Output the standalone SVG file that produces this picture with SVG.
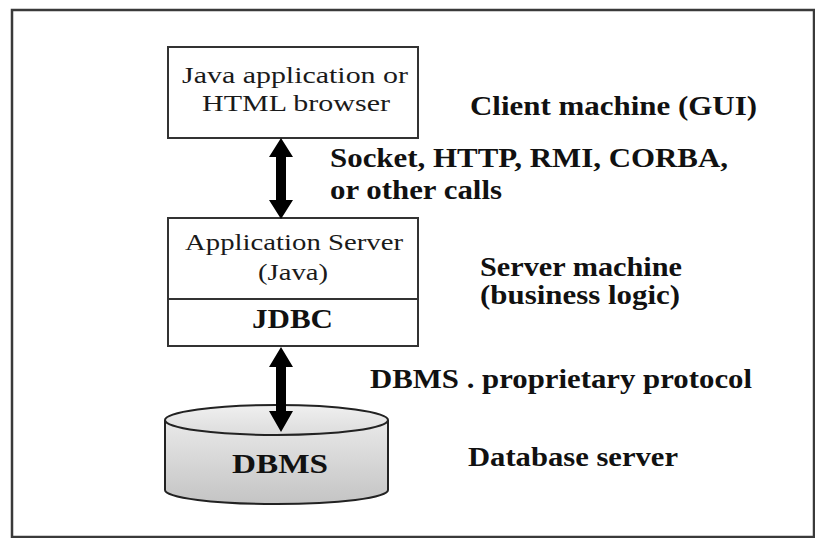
<svg xmlns="http://www.w3.org/2000/svg" width="815" height="538" viewBox="0 0 815 538">
  <style>
    .box { fill: #ffffff; stroke: #333333; stroke-width: 2; }
    .reg { font-family: "Liberation Serif", "Times New Roman", serif; font-size: 23.5px; fill: #1a1a1a; }
    .bold { font-family: "Liberation Serif", "Times New Roman", serif; font-size: 28px; font-weight: bold; fill: #111111; }
    .arrow { fill: #000000; stroke: none; }
  </style>
  <defs>
    <linearGradient id="cylSide" x1="0" y1="0" x2="0" y2="1">
      <stop offset="0" stop-color="#e9e9e9"/>
      <stop offset="1" stop-color="#c4c4c4"/>
    </linearGradient>
    <linearGradient id="cylTop" x1="0" y1="0" x2="0" y2="1">
      <stop offset="0" stop-color="#f0f0f0"/>
      <stop offset="1" stop-color="#dcdcdc"/>
    </linearGradient>
  </defs>
  <rect x="0" y="0" width="815" height="538" fill="#ffffff"/>
  <rect id="frame" x="12" y="10" width="802" height="527" fill="none" stroke="#3a3a3a" stroke-width="2.5"/>

  <g id="client">
    <rect class="box" x="168" y="47" width="250" height="91"/>
    <text class="reg" x="182" y="83" textLength="226" lengthAdjust="spacingAndGlyphs">Java application or</text>
    <text class="reg" x="202" y="111" textLength="188" lengthAdjust="spacingAndGlyphs">HTML browser</text>
  </g>

  <g id="appserver">
    <rect class="box" x="168" y="218" width="250" height="128"/>
    <line x1="168" y1="299" x2="418" y2="299" stroke="#333333" stroke-width="2"/>
    <text class="reg" x="185" y="250" textLength="218" lengthAdjust="spacingAndGlyphs">Application Server</text>
    <text class="reg" x="258" y="280" textLength="70" lengthAdjust="spacingAndGlyphs">(Java)</text>
    <text class="bold" x="252" y="328" textLength="81" lengthAdjust="spacingAndGlyphs">JDBC</text>
  </g>

  <g id="dbms">
    <path d="M165,420 L165,490 A111.5,14 0 0 0 388,490 L388,420" fill="url(#cylSide)" stroke="#222222" stroke-width="2"/>
    <ellipse cx="276.5" cy="420" rx="111.5" ry="15" fill="url(#cylTop)" stroke="#222222" stroke-width="2"/>
    <text class="bold" x="232" y="473" textLength="96" lengthAdjust="spacingAndGlyphs">DBMS</text>
  </g>

  <g id="connectors">
    <polygon class="arrow" points="281,138 293,157 286,157 286,200 293,200 281,219 269,200 276,200 276,157 269,157"/>
    <polygon class="arrow" points="281,347 293,367 286,367 286,411 293,411 281,432 269,411 276,411 276,367 269,367"/>
  </g>

  <g id="labels">
    <text class="bold" x="470" y="115" textLength="287" lengthAdjust="spacingAndGlyphs">Client machine (GUI)</text>
    <text class="bold" x="330" y="167" textLength="398" lengthAdjust="spacingAndGlyphs">Socket, HTTP, RMI, CORBA,</text>
    <text class="bold" x="330" y="199" textLength="172" lengthAdjust="spacingAndGlyphs">or other calls</text>
    <text class="bold" x="480" y="276" textLength="202" lengthAdjust="spacingAndGlyphs">Server machine</text>
    <text class="bold" x="480" y="304" textLength="200" lengthAdjust="spacingAndGlyphs">(business logic)</text>
    <text class="bold" x="370" y="388" textLength="382" lengthAdjust="spacingAndGlyphs">DBMS . proprietary protocol</text>
    <text class="bold" x="468" y="466" textLength="210" lengthAdjust="spacingAndGlyphs">Database server</text>
  </g>
</svg>
